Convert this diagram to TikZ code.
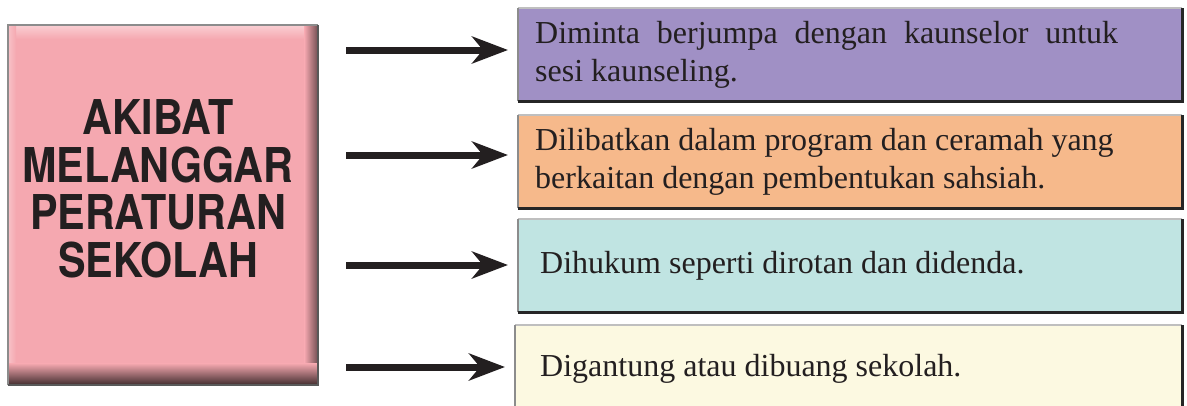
\documentclass[tikz,border=0pt]{standalone}
\usepackage{fontspec}
\setmainfont{Liberation Serif}
\newfontfamily\judulfont[FakeStretch=0.86]{TeX Gyre Heros}
\usetikzlibrary{arrows.meta}
\definecolor{teks}{HTML}{231F20}
\definecolor{merah}{HTML}{F5A8B0}
\definecolor{ungu}{HTML}{A090C5}
\definecolor{jingga}{HTML}{F6B98B}
\definecolor{biru}{HTML}{C0E4E2}
\definecolor{kuning}{HTML}{FCF9E1}

\begin{document}
\begin{tikzpicture}[x=1pt, y=-1pt, line join=miter,
  kotak/.style={rectangle, anchor=north west, minimum width=664pt, minimum height=93pt,
    inner xsep=17pt, inner ysep=0pt, text width=630pt, align=justify,
    font=\fontsize{32}{38}\selectfont, text=teks},
  panah/.style={line width=7pt, draw=teks, shorten >=10pt,
    -{Stealth[length=36pt,width=27pt,inset=11pt]}}]
  \useasboundingbox (0,0) rectangle (1187,405);
  \clip (0,0) rectangle (1187,405);
  % the title box
  \node[rectangle, anchor=north west, minimum width=310pt, minimum height=360pt,
    fill=merah, inner sep=0pt] (sebab) at (8,25) {};
  \shade[top color=merah!55!white, bottom color=merah] (sebab.north west) rectangle ([yshift=-14pt]sebab.north east);
  \shade[left color=merah!70!white, right color=merah] (sebab.north west) rectangle ([xshift=8pt]sebab.south west);
  \shade[left color=merah, right color=merah!45!black] ([xshift=-14pt]sebab.north east) rectangle (sebab.south east);
  \shade[top color=merah, bottom color=merah!25!black] ([yshift=22pt]sebab.south west) rectangle (sebab.south east);
  \draw[line width=2pt, black!45] (sebab.south west) -- (sebab.north west) -- (sebab.north east);
  \draw[line width=2pt, black!65] (sebab.north east) -- (sebab.south east) -- (sebab.south west);
  \node[font=\judulfont\bfseries\fontsize{48}{47.5}\selectfont, text=teks, align=center,
    inner sep=0pt] (judul) at (158,189) {AKIBAT\\MELANGGAR\\PERATURAN\\SEKOLAH};
  % the four results
  \node[kotak, fill=ungu] (k1) at (518,8)
    {\parbox{583pt}{Diminta berjumpa dengan kaunselor untuk\linebreak sesi kaunseling.}};
  \node[kotak, fill=jingga] (k2) at (518,115)
    {\parbox{610pt}{Dilibatkan dalam program dan ceramah yang\\ berkaitan dengan pembentukan sahsiah.}};
  \node[kotak, fill=biru, inner xsep=22pt, text width=620pt] (k3) at (518,219)
    {Dihukum seperti dirotan dan didenda.};
  \node[kotak, fill=kuning, minimum width=667pt, minimum height=100pt] (k4) at (515,325) {};
  \node[font=\fontsize{32}{38}\selectfont, text=teks, anchor=west, inner sep=0pt] (t4) at (540,369)
    {Digantung atau dibuang sekolah.};
  \foreach \k in {k1,k2,k3,k4} {
    \draw[line width=2pt, black!25] (\k.north west) -- (\k.north east);
    \draw[line width=2pt, black!45] (\k.south west) -- (\k.north west);
    \draw[line width=3pt, black!85] (\k.north east) -- (\k.south east) -- (\k.south west);
  }
  % the arrows
  \coordinate (p1) at (346,50);
  \coordinate (p2) at (346,155);
  \coordinate (p3) at (346,265);
  \coordinate (p4) at (346,367);
  \foreach \i in {1,2,3,4} \draw[panah] (p\i) -- (k\i.west |- p\i);
\end{tikzpicture}
\end{document}
